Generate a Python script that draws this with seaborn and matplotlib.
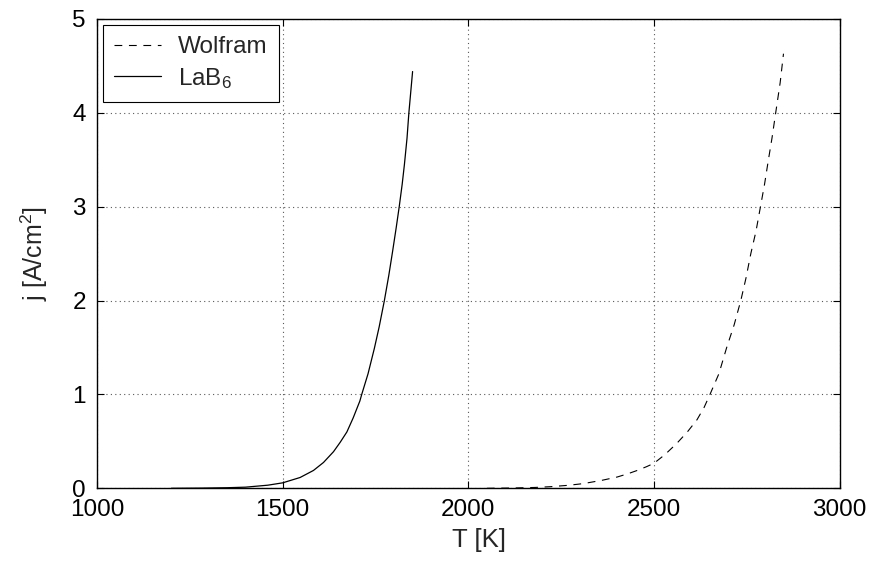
import matplotlib
matplotlib.use("Agg")
import matplotlib.pyplot as plt
import pandas as pd
import seaborn as sns

# Emission current density of a tungsten (Wolfram) and a LaB6 cathode vs. temperature
lab6_T = [1200, 1280, 1350, 1400, 1460, 1500, 1547, 1583, 1610, 1637, 1655, 1673,
          1690, 1708, 1713, 1730, 1747, 1760, 1774, 1786, 1796, 1806, 1814, 1822,
          1828, 1835, 1840, 1845, 1850]
lab6_j = [0.0, 0.002, 0.006, 0.012, 0.033, 0.058, 0.115, 0.19, 0.275, 0.39, 0.49, 0.60,
          0.75, 0.93, 1.0, 1.22, 1.49, 1.72, 2.0, 2.27, 2.52, 2.78, 3.0, 3.24,
          3.45, 3.73, 4.0, 4.22, 4.44]

wolfram_T = [2050, 2120, 2180, 2221, 2270, 2310, 2360, 2401, 2430, 2455, 2480, 2500,
             2530, 2562, 2590, 2616, 2635, 2651, 2675, 2696, 2716, 2734, 2748, 2761,
             2775, 2787, 2798, 2808, 2818, 2828, 2840, 2849]
wolfram_j = [0.0, 0.003, 0.009, 0.017, 0.032, 0.05, 0.085, 0.12, 0.155, 0.19, 0.23, 0.266,
             0.36, 0.48, 0.6, 0.73, 0.86, 1.0, 1.22, 1.5, 1.74, 2.0, 2.24, 2.5,
             2.74, 3.0, 3.24, 3.49, 3.73, 4.0, 4.32, 4.63]

x_ticks = [1000, 1500, 2000, 2500, 3000]
y_ticks = [0, 1, 2, 3, 4, 5]
series_names = ["Wolfram", "LaB$_6$"]

sns.set_style("white")
plt.rcParams["font.family"] = ["Liberation Sans", "DejaVu Sans"]
plt.rcParams["mathtext.fontset"] = "custom"
plt.rcParams["mathtext.rm"] = "Liberation Sans"
plt.rcParams["mathtext.it"] = "Liberation Sans"

fig = plt.figure(figsize=(8.7, 5.63), dpi=100)
ax = fig.add_axes([0.1115, 0.1327, 0.8535, 0.8336])

df_w = pd.DataFrame({"T": wolfram_T, "j": wolfram_j})
df_l = pd.DataFrame({"T": lab6_T, "j": lab6_j})

sns.lineplot(data=df_w, x="T", y="j", ax=ax, color="black", linewidth=0.8,
             sort=False, estimator=None)
sns.lineplot(data=df_l, x="T", y="j", ax=ax, color="black", linewidth=0.9,
             sort=False, estimator=None)
line_w, line_l = ax.get_lines()[0], ax.get_lines()[1]
line_w.set_dashes([7, 6])

ax.set_xlim(x_ticks[0], x_ticks[-1])
ax.set_ylim(y_ticks[0], y_ticks[-1])
ax.set_xticks(x_ticks)
ax.set_yticks(y_ticks)
ax.set_xticklabels([str(v) for v in x_ticks])
ax.set_yticklabels([str(v) for v in y_ticks])

ax.grid(True, color="0.35", linestyle=(0, (1, 3)), linewidth=0.8)
ax.set_axisbelow(True)
for sp in ax.spines.values():
    sp.set_visible(True)
    sp.set_color("black")
    sp.set_linewidth(1.0)

ax.tick_params(axis="both", which="major", direction="in", length=5, width=0.8,
               top=True, right=True, bottom=True, left=True,
               labelsize=17.5, colors="black", pad=8)

ax.set_xlabel("T [K]", fontsize=18.5, labelpad=7)
ax.xaxis.set_label_coords(0.515, -0.085)
ax.set_ylabel("j [A/cm$^2$]", fontsize=18, labelpad=16)

leg = ax.legend([line_w, line_l], series_names, loc="upper left",
                bbox_to_anchor=(0.008, 0.987), fontsize=17.5, frameon=True,
                fancybox=False, edgecolor="black", framealpha=1,
                handlelength=1.95, handletextpad=0.7, borderpad=0.45,
                labelspacing=0.32, borderaxespad=0.0)
leg.get_frame().set_linewidth(0.8)

fig.savefig("out.png", dpi=100)
